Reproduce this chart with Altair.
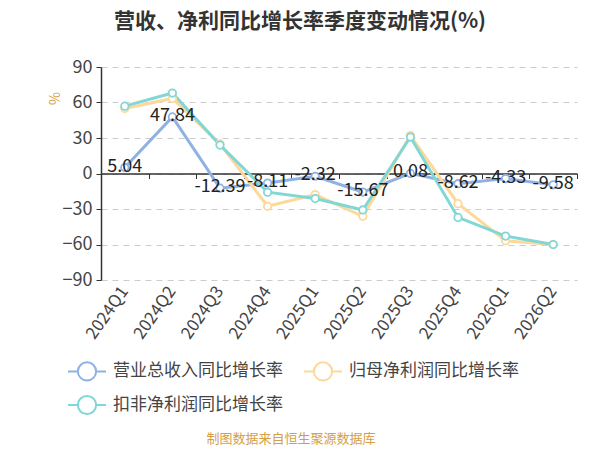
import altair as alt
import pandas as pd

quarters = ["2024Q1", "2024Q2", "2024Q3", "2024Q4", "2025Q1", "2025Q2",
            "2025Q3", "2025Q4", "2026Q1", "2026Q2"]
revenue = [5.04, 47.84, -12.39, -8.11, -2.32, -15.67, 0.08, -8.62, -4.33, -9.58]
revenue_labels = ["5.04", "47.84", "-12.39", "-8.11", "-2.32", "-15.67", "0.08", "-8.62", "-4.33", "-9.58"]
net_profit = [55.0, 63.4, 25.0, -27.7, -17.8, -36.2, 32.0, -25.5, -56.9, -60.0]
deducted_profit = [56.9, 68.0, 24.0, -15.8, -21.2, -30.8, 30.8, -37.1, -52.9, -60.0]

series_names = ["营业总收入同比增长率", "归母净利润同比增长率", "扣非净利润同比增长率"]
series_colors = ["#8fb1e3", "#fdd89a", "#80d7d5"]
# legend grid fills column by column: order entries so rows read like the reference
legend_order = [series_names[0], series_names[2], series_names[1]]
legend_colors = [series_colors[0], series_colors[2], series_colors[1]]
y_ticks = [90, 60, 30, 0, -30, -60, -90]

title_text = "营收、净利同比增长率季度变动情况(%)"
source_text = "制图数据来自恒生聚源数据库"

rows = []
for name, vals in zip(series_names, [revenue, net_profit, deducted_profit]):
    for q, v in zip(quarters, vals):
        rows.append({"quarter": q, "value": v, "series": name})
df = pd.DataFrame(rows)
lab_df = pd.DataFrame({"quarter": quarters, "value": revenue, "label": revenue_labels})

FONT = "Noto Sans CJK SC"
W, H = 476, 213

xscale = alt.Scale(domain=quarters, paddingInner=0, paddingOuter=0)
yscale = alt.Scale(domain=[-90, 90], nice=False, zero=False)
cscale = alt.Scale(domain=legend_order, range=legend_colors)

legend = alt.Legend(
    title=None, orient="none", legendX=-34, legendY=284, columns=2,
    columnPadding=17, rowPadding=-5, values=legend_order,
    symbolType="M-1,0L-0.48,0M0.48,0L1,0M0.48,0A0.48,0.48,0,1,1,-0.48,0A0.48,0.48,0,1,1,0.48,0",
    symbolSize=1444, symbolStrokeWidth=2, symbolFillColor="white",
    labelFont=FONT, labelFontSize=17, labelColor="#444", labelOffset=6,
    labelLimit=300,
)
stroke_enc = alt.Stroke("series:N", scale=cscale, sort=legend_order, legend=legend)

x_main = alt.X("quarter:N", scale=xscale, sort=quarters, title=None,
               axis=alt.Axis(labelAngle=-55, labelAlign="right", labelBaseline="middle",
                             labelPadding=8, labelFont=FONT, labelFontSize=17,
                             labelColor="#444", domain=False, ticks=False, grid=False))
x_zero = alt.X("quarter:N", scale=xscale, sort=quarters, title=None,
               axis=alt.Axis(orient="bottom", offset=-H / 2, labels=False, domain=True,
                             domainColor="#333", domainWidth=1.5, ticks=True, tickBand="extent",
                             tickColor="#333", tickSize=5, grid=False))

y_enc = alt.Y("value:Q", scale=yscale,
              axis=alt.Axis(values=y_ticks, title="%", labelOverlap=False,
                            titleColor="#d69e45", titleFont=FONT, titleFontSize=14,
                            titleFontWeight="normal", titleAngle=270, titleX=-46, titleY=31,
                            titleAlign="center", titleBaseline="middle",
                            labelFont=FONT, labelFontSize=18, labelColor="#444",
                            labelPadding=4, domainColor="#333", domainWidth=1.5,
                            tickColor="#333", tickSize=5,
                            gridColor="#cccccc", gridDash=[6, 5], gridWidth=1.2))

base = alt.Chart(df)

lines = base.mark_line(strokeWidth=3).encode(x=x_main, y=y_enc, stroke=stroke_enc)
points = base.mark_point(shape="circle", filled=True, fill="white", size=55,
                         strokeWidth=1.8, opacity=1).encode(x=x_main, y=y_enc, stroke=stroke_enc)

zero_axis = alt.Chart(lab_df).mark_point(opacity=0).encode(x=x_zero, y=y_enc)

labels = alt.Chart(lab_df).mark_text(font=FONT, fontSize=18, color="#222",
                                     baseline="middle", dy=-1).encode(
    x=x_main, y=y_enc, text="label:N")

source = alt.Chart(pd.DataFrame({"t": [source_text]})).mark_text(
    font=FONT, fontSize=13, color="#d69e45", align="center",
    baseline="middle").encode(x=alt.value(190), y=alt.value(372), text="t:N")

main = alt.layer(lines, points, labels, source)
chart = alt.layer(main, zero_axis).resolve_axis(x="independent").properties(
    width=W, height=H,
    background="white",
    title=alt.TitleParams(title_text, font=FONT, fontSize=21, fontWeight="bold",
                          color="#333", anchor="middle", dx=-39, offset=26),
    autosize=alt.AutoSizeParams(type="none"),
    padding={"left": 93, "top": 59, "right": 15, "bottom": 176},
).configure_view(strokeWidth=0)

chart.save("out.html", embed_options={"renderer": "svg", "actions": False})
